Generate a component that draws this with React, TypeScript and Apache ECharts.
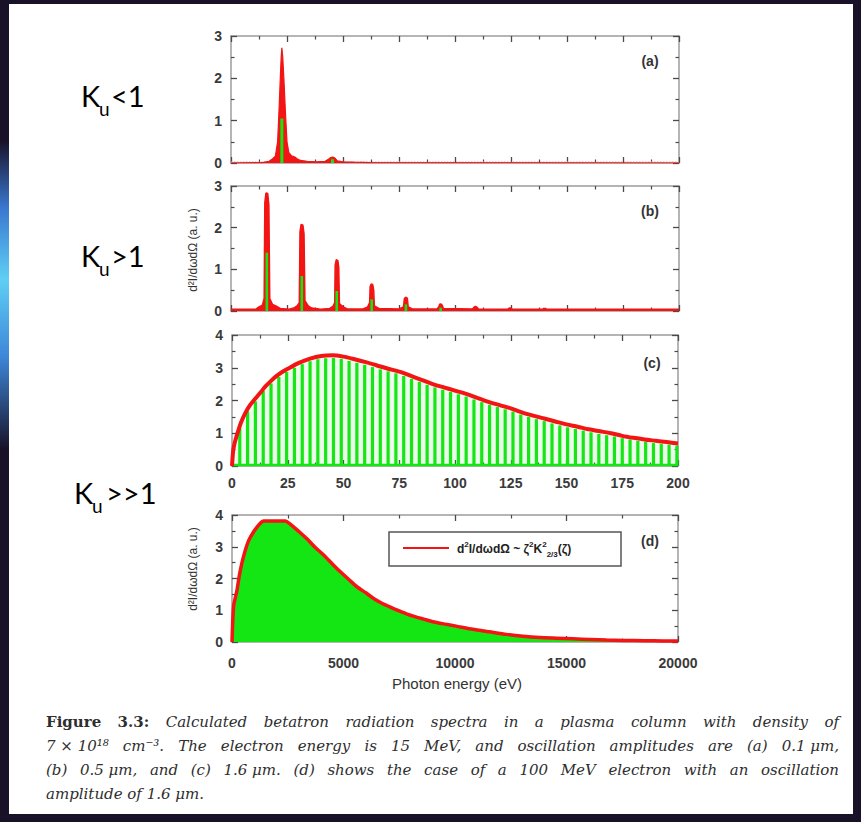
import React, { useEffect, useRef } from "react";
import * as echarts from "echarts";

// ---------------- data ----------------
const xTicksLowEnergy = [0, 25, 50, 75, 100, 125, 150, 175, 200];
const xTicksHighEnergy = [0, 5000, 10000, 15000, 20000];
const yTicksAB = [0, 1, 2, 3];
const yTicksCD = [0, 1, 2, 3, 4];

const panelLabels = ["(a)", "(b)", "(c)", "(d)"];
const regimeLabels = ["<1", ">1", ">>1"];

// (a) K_u < 1
const aRedSpectrum = [
  [0, 0], [14, 0.01], [17, 0.04], [18.6, 0.1], [19.8, 0.16], [20.8, 0.5], [21.4, 1.2], [22.0, 2.0],
  [22.4, 2.5], [22.7, 2.72], [23.1, 2.5], [23.6, 2.0], [24.3, 1.2], [25.0, 0.5], [25.8, 0.25], [27, 0.17],
  [28.5, 0.14], [29.5, 0.1], [31, 0.06], [34, 0.04], [38, 0.03], [42, 0.04], [43.5, 0.09], [44.5, 0.13],
  [45.5, 0.14], [46.5, 0.11], [47.5, 0.05], [50, 0.03], [55, 0.02], [62, 0.01], [200, 0],
];
const aGreenLines = [[22.7, 1.05], [45.3, 0.09]];
const aBaseline = [[0, 0.015], [200, 0.015]];

// (b) K_u > 1
const bRedSpectrum = [
  [0, 0.04], [11, 0.04], [12.5, 0.1], [14, 0.14], [14.8, 0.3], [15.1, 2.6], [15.6, 2.83], [16.4, 2.82], [16.9, 2.55],
  [17.3, 0.3], [18.5, 0.16], [20, 0.12], [22, 0.06], [26, 0.04],
  [28, 0.07], [29.5, 0.12], [30.5, 0.2], [30.8, 1.9], [31.3, 2.08], [32.1, 2.06], [32.6, 1.85], [33, 0.25],
  [34.5, 0.12], [36, 0.07], [40, 0.04],
  [44, 0.06], [45.6, 0.12], [46.3, 0.2], [46.5, 1.1], [47.0, 1.23], [47.7, 1.21], [48.1, 1.05], [48.4, 0.18],
  [50, 0.1], [52, 0.05],
  [59, 0.05], [61, 0.1], [61.9, 0.2], [62.1, 0.58], [62.6, 0.65], [63.3, 0.63], [63.7, 0.5], [64, 0.12], [66, 0.06],
  [75, 0.05], [77, 0.1], [77.4, 0.3], [78.0, 0.33], [78.7, 0.31], [79.1, 0.1], [81, 0.05],
  [92, 0.05], [92.8, 0.1], [93.1, 0.16], [93.8, 0.17], [94.3, 0.14], [94.8, 0.06],
  [107.8, 0.05], [108.5, 0.09], [109.1, 0.11], [109.8, 0.09], [110.5, 0.05],
  [123.5, 0.04], [124.2, 0.07], [125, 0.07], [125.7, 0.04],
  [139, 0.04], [139.6, 0.06], [140.4, 0.06], [141, 0.04], [200, 0.04],
];
const bGreenLines = [[16.0, 1.4], [31.6, 0.84], [47.2, 0.48], [62.8, 0.28], [78.1, 0.16], [93.6, 0.08]];

// (c) K_u >> 1 (15 MeV)
const cEnvelope = [
  [0, 0], [0.5, 0.45], [1, 0.65], [2, 0.9], [3, 1.12], [4, 1.32], [6, 1.62], [8, 1.85], [10, 2.02],
  [12.5, 2.22], [15, 2.43], [17.5, 2.6], [20, 2.75], [22.5, 2.87], [25, 2.97], [30, 3.15], [35, 3.28],
  [40, 3.36], [45, 3.38], [50, 3.34], [55, 3.26], [60, 3.17], [65, 3.07], [70, 2.97], [75, 2.88],
  [80, 2.76], [85, 2.63], [90, 2.5], [95, 2.4], [100, 2.3], [105, 2.2], [110, 2.08], [115, 1.96],
  [120, 1.86], [125, 1.76], [130, 1.64], [135, 1.54], [140, 1.45], [145, 1.36], [150, 1.27], [155, 1.2],
  [160, 1.12], [165, 1.06], [170, 1.0], [175, 0.92], [180, 0.86], [185, 0.81], [190, 0.77], [195, 0.73],
  [200, 0.69],
];
const cHarmonicX = [
  3.5, 7, 10.5, 14, 17.5, 21, 24.5, 28, 31.5, 35, 38.5, 42, 45.5, 49, 52.5, 56, 59.5, 63, 66.5,
  70, 73.5, 77, 80.5, 84, 87.5, 91, 94.5, 98, 101.5, 105, 108.5, 112, 115.5, 119, 122.5, 126,
  129.5, 133, 136.5, 140, 143.5, 147, 150.5, 154, 157.5, 161, 164.5, 168, 171.5, 175, 178.5,
  182, 185.5, 189, 192.5, 196, 199.5,
];
const cHarmonicY = [
  1.15, 1.67, 1.97, 2.29, 2.52, 2.72, 2.87, 3.0, 3.11, 3.2, 3.26, 3.29, 3.3, 3.27, 3.21, 3.15, 3.09,
  3.02, 2.95, 2.89, 2.83, 2.75, 2.66, 2.57, 2.48, 2.4, 2.33, 2.26, 2.19, 2.12, 2.03, 1.95, 1.87, 1.8,
  1.73, 1.66, 1.57, 1.5, 1.43, 1.37, 1.3, 1.24, 1.18, 1.13, 1.08, 1.03, 0.98, 0.94, 0.9, 0.85, 0.81,
  0.77, 0.74, 0.7, 0.67, 0.65, 0.62,
];
const cBaseline = [[0, 0.03], [200, 0.03]];

// (d) 100 MeV electron
const dSpectrum = [
  [0, 0], [30, 0.6], [75, 1.15], [150, 1.4], [224, 1.63], [330, 2.1], [448, 2.5], [600, 2.9], [750, 3.2],
  [950, 3.45], [1120, 3.62], [1300, 3.76], [1420, 3.81], [2400, 3.81], [2600, 3.72], [2770, 3.62],
  [3050, 3.45], [3360, 3.25], [3700, 3.0], [4110, 2.74], [4500, 2.46], [4860, 2.21], [5250, 1.96],
  [5600, 1.74], [6000, 1.55], [6350, 1.37], [6700, 1.23], [7100, 1.1], [7500, 0.98], [7850, 0.88],
  [8200, 0.8], [8600, 0.72], [9000, 0.64], [9500, 0.57], [10050, 0.5], [10800, 0.4], [11550, 0.32],
  [12300, 0.24], [13050, 0.18], [13800, 0.14], [14550, 0.12], [15300, 0.1], [16050, 0.08],
  [16800, 0.06], [17550, 0.05], [18500, 0.04], [19300, 0.035], [20000, 0.03],
];

const yAxisTitle = "d²I/dωdΩ (a. u.)";
const xAxisTitle = "Photon energy (eV)";
const captionLines = [
  "Figure 3.3:  Calculated betatron radiation spectra in a plasma column with density of",
  "7\u00a0×\u00a010¹⁸ cm⁻³. The electron energy is 15 MeV, and oscillation amplitudes are (a) 0.1\u00a0μm,",
  "(b) 0.5\u00a0μm, and (c) 1.6\u00a0μm. (d) shows the case of a 100 MeV electron with an oscillation",
  "amplitude of 1.6\u00a0μm.",
];

// ---------------- styling / layout ----------------
const RED = "#f31414";
const GREEN = "#14e614";
const FRAME = "#9c9c9c";
const TICK = "#4a4a4a";
const LABEL = "#3a3a3a";
const SANS = '"Liberation Sans", Arial, sans-serif';

const grids = [
  { left: 231, top: 36, width: 448, height: 127 },
  { left: 231, top: 186, width: 448, height: 125 },
  { left: 232, top: 335, width: 446, height: 131 },
  { left: 232, top: 515, width: 446, height: 127 },
];

function axisBase(gi: number, ticks: number[]) {
  return {
    type: "value",
    gridIndex: gi,
    min: ticks[0],
    max: ticks[ticks.length - 1],
    interval: ticks[1] - ticks[0],
    axisLine: { show: true, onZero: false, lineStyle: { color: FRAME, width: 1.5 } },
    axisTick: { show: true, inside: true, length: 6, lineStyle: { color: TICK, width: 1.3 } },
    minorTick: { show: true, splitNumber: 2, length: 3.5, lineStyle: { color: TICK, width: 1.2 } },
    splitLine: { show: false },
    minorSplitLine: { show: false },
  };
}
const labelStyle = (margin: number) => ({
  show: true,
  margin,
  fontSize: 14,
  fontWeight: "bold",
  color: LABEL,
  fontFamily: SANS,
  formatter: (v: number) => String(v),
});

function xAxes(gi: number, ticks: number[], labelMargin: number | null) {
  const base = axisBase(gi, ticks);
  return [
    { ...base, position: "bottom", axisLabel: labelMargin === null ? { show: false } : labelStyle(labelMargin) },
    { ...base, position: "top", axisLabel: { show: false } },
  ];
}
function yAxes(gi: number, ticks: number[]) {
  const base = axisBase(gi, ticks);
  return [
    { ...base, position: "left", axisLabel: labelStyle(9) },
    { ...base, position: "right", axisLabel: { show: false } },
  ];
}

function textEl(x: number, y: number, text: string, font: string, fill: string, align = "left", extra: any = {}) {
  return {
    type: "text",
    x,
    y,
    silent: true,
    z: 50,
    ...extra,
    style: {
      text,
      font,
      fill,
      align,
      textAlign: align,
      verticalAlign: "middle",
      textVerticalAlign: "middle",
    },
  };
}

function captionGraphics() {
  const canvas = document.createElement("canvas");
  const ctx = canvas.getContext("2d")!;
  const left = 46;
  const right = 839;
  const size = 15;
  const family = '"DejaVu Serif", "Liberation Serif", serif';
  const ys = [722, 746, 770, 794];
  const els: any[] = [];
  captionLines.forEach((line, li) => {
    const words = line.split(/ +/);
    const fonts = words.map((_, wi) =>
      li === 0 && wi < 2 ? `bold ${size}px ${family}` : `italic ${size}px ${family}`
    );
    const widths = words.map((w, i) => {
      ctx.font = fonts[i];
      return ctx.measureText(w).width;
    });
    const total = widths.reduce((a, b) => a + b, 0);
    ctx.font = `italic ${size}px ${family}`;
    const space = ctx.measureText(" ").width;
    const justify = li < captionLines.length - 1;
    const gap = justify ? (right - left - total) / (words.length - 1) : space;
    let x = left;
    words.forEach((w, i) => {
      els.push(textEl(x, ys[li], w, fonts[i], "#2e2e2e"));
      x += widths[i] + gap;
    });
  });
  return els;
}

function regimeGraphics() {
  const spots = [
    { x: 81, y: 95, rest: 30 },
    { x: 81, y: 255, rest: 30 },
    { x: 74, y: 492, rest: 32 },
  ];
  const els: any[] = [];
  const big = '29px Lato, "Open Sans", sans-serif';
  spots.forEach((s, i) => {
    els.push(textEl(s.x, s.y, "K", big, "#000"));
    els.push(textEl(s.x + 18, s.y + 13, "u", '19px Lato, "Open Sans", sans-serif', "#000"));
    els.push(textEl(s.x + s.rest, s.y, regimeLabels[i], big, "#000"));
  });
  return els;
}

function buildOption() {
  const panelSpots = [
    [650, 61],
    [650, 211],
    [652, 363],
    [650, 541],
  ];
  const graphics: any[] = [
    ...regimeGraphics(),
    ...panelSpots.map((p, i) => textEl(p[0], p[1], panelLabels[i], `bold 14px ${SANS}`, "#333", "center")),
    textEl(193, 250, yAxisTitle, `12px ${SANS}`, "#333", "center", { rotation: Math.PI / 2 }),
    textEl(193, 569, yAxisTitle, `12px ${SANS}`, "#333", "center", { rotation: Math.PI / 2 }),
    textEl(457, 683, xAxisTitle, `15px ${SANS}`, "#333", "center"),
    // legend of (d)
    {
      type: "rect",
      z: 60,
      silent: true,
      shape: { x: 389, y: 532, width: 232, height: 34 },
      style: { fill: "#fff", stroke: "#555", lineWidth: 1.5 },
    },
    {
      type: "line",
      z: 61,
      silent: true,
      shape: { x1: 403, y1: 548, x2: 449, y2: 548 },
      style: { stroke: RED, lineWidth: 2 },
    },
    {
      type: "text",
      z: 61,
      silent: true,
      x: 457,
      y: 549,
      style: {
        text: "{n|d}{p|2}{n|I/dωdΩ ~ ζ}{p|2}{n|K}{p|2}{b|2/3}{n|(ζ)}",
        verticalAlign: "middle",
        textVerticalAlign: "middle",
        fill: "#222",
        rich: {
          n: { fontSize: 12, fontFamily: SANS, fontWeight: "bold", lineHeight: 18, verticalAlign: "middle", fill: "#222" },
          p: { fontSize: 8, fontFamily: SANS, fontWeight: "bold", lineHeight: 18, verticalAlign: "top", fill: "#222" },
          b: { fontSize: 8, fontFamily: SANS, fontWeight: "bold", lineHeight: 18, verticalAlign: "bottom", fill: "#222" },
        },
      },
    },
    ...captionGraphics(),
  ];

  return {
    animation: false,
    backgroundColor: "transparent",
    grid: grids.map((g) => ({ ...g, containLabel: false, outerBoundsMode: "none" })),
    xAxis: [
      ...xAxes(0, xTicksLowEnergy, null),
      ...xAxes(1, xTicksLowEnergy, null),
      ...xAxes(2, xTicksLowEnergy, 10),
      ...xAxes(3, xTicksHighEnergy, 14),
    ],
    yAxis: [...yAxes(0, yTicksAB), ...yAxes(1, yTicksAB), ...yAxes(2, yTicksCD), ...yAxes(3, yTicksCD)],
    series: [
      // (a)
      {
        type: "line", xAxisIndex: 0, yAxisIndex: 0, data: aBaseline, symbol: "none", z: 1,
        lineStyle: { color: "#ff8f8f", width: 1.5, type: "dotted" },
      },
      {
        type: "line", xAxisIndex: 0, yAxisIndex: 0, data: aRedSpectrum, symbol: "none", z: 2,
        lineStyle: { color: RED, width: 1.2 }, areaStyle: { color: RED, opacity: 1 },
      },
      {
        type: "bar", xAxisIndex: 0, yAxisIndex: 0, data: aGreenLines, barWidth: 3, z: 3,
        itemStyle: { color: GREEN },
      },
      // (b)
      {
        type: "line", xAxisIndex: 2, yAxisIndex: 2, data: bRedSpectrum, symbol: "none", z: 2,
        lineStyle: { color: RED, width: 1.5 }, areaStyle: { color: RED, opacity: 1 },
      },
      {
        type: "bar", xAxisIndex: 2, yAxisIndex: 2, data: bGreenLines, barWidth: 2.6, z: 3,
        itemStyle: { color: GREEN },
      },
      // (c)
      {
        type: "line", xAxisIndex: 4, yAxisIndex: 4, data: cBaseline, symbol: "none", z: 2,
        lineStyle: { color: GREEN, width: 2.5 },
      },
      {
        type: "bar", xAxisIndex: 4, yAxisIndex: 4,
        data: cHarmonicX.map((x, i) => [x, cHarmonicY[i]]),
        barWidth: 3.2, z: 3, itemStyle: { color: GREEN },
      },
      {
        type: "line", xAxisIndex: 4, yAxisIndex: 4, data: cEnvelope, symbol: "none", smooth: 0.3, z: 4,
        lineStyle: { color: RED, width: 4 }, areaStyle: { color: "rgba(40,230,40,0.13)" },
      },
      // (d)
      {
        type: "line", xAxisIndex: 6, yAxisIndex: 6, data: dSpectrum, symbol: "none", smooth: 0.2, z: 4,
        lineStyle: { color: RED, width: 3.5 }, areaStyle: { color: GREEN, opacity: 1 },
      },
    ],
    graphic: { elements: graphics },
  };
}

export default function App() {
  const ref = useRef<HTMLDivElement>(null);
  useEffect(() => {
    if (!ref.current) return;
    const chart = echarts.init(ref.current, null, { renderer: "svg" });
    chart.setOption(buildOption() as any);
    return () => chart.dispose();
  }, []);
  return (
    <div
      style={{
        position: "fixed",
        left: 0,
        top: 0,
        width: 861,
        height: 822,
        background: "#181127",
        overflow: "hidden",
      }}
    >
      <div
        style={{
          position: "absolute",
          left: 0,
          top: 140,
          width: 10,
          height: 310,
          background:
            "linear-gradient(to bottom, rgba(40,70,170,0) 0%, #3a78d0 22%, #5fcff5 45%, #3d86d8 70%, rgba(40,60,150,0) 100%)",
        }}
      />
      <div style={{ position: "absolute", left: 9, top: 4, width: 844, height: 810, background: "#fff" }} />
      <div ref={ref} style={{ position: "absolute", left: 0, top: 0, width: 861, height: 822 }} />
    </div>
  );
}
